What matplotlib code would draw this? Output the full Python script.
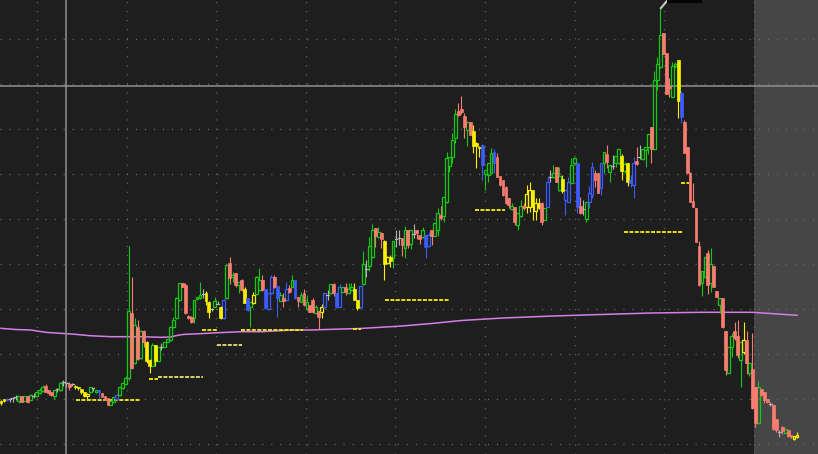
import matplotlib
matplotlib.use("Agg")
import matplotlib.pyplot as plt
from matplotlib.patches import Rectangle
import numpy as np

# ---- candle data: (open, high, low, close, colour-code) ----
seg_a = [
 (53,54,49,51,'y'), (55,55.5,52,53,'y'), (55,56,53,54,'b'), (55,56.5,52,55,'w'),
 (56,57.5,52.5,56,'w'), (57,59,54,57,'w'), (53.5,58.5,50.7,58,'g'), (58,58.5,52,52.5,'r'),
 (53.5,58.5,53,58,'g'), (58,58.5,50.7,52.5,'r'), (54.5,60,54,59,'g'), (58,60.7,55.7,58,'w'),
 (58,62.5,57.5,62,'g'), (61,66,60,64,'g'), (63,69,62,67,'g'), (68,70,62,62.5,'r'),
 (64,64,59,61,'r'), (62,62.5,58,59,'r'), (58,64,54.7,64,'g'), (65,66,62,65,'w'),
 (64,72,63,71.3,'g'), (72,74,68,72,'w'), (70.7,71.3,67.3,70.7,'w'), (70,72.3,64,67,'r'),
 (70,71.3,68,70,'w'), (68,69,64.7,67.5,'y'), (67,67.3,64,66,'y'), (65,65.5,60,62,'y'),
 (62.3,62.5,57,58,'y'), (58,60.7,54.7,60,'y'), (61.7,67,61,66.7,'g'), (66,66.3,63.3,66,'w'),
 (61.7,64.5,61,64,'g'), (64,64.5,54.7,61.7,'b'), (60.7,61,57,57.3,'r'), (58,58,54,54,'r'),
 (55.7,56,49,49,'r'), (49,54,49,53.3,'g'), (52.3,57,52,56.7,'g'), (55,60,54,59,'b'),
 (59,67.5,58.5,67,'g'), (66,72,65,71.3,'g'), (70,78,69,76,'g'),
]
seg_b = [
 (76,208,74,143,'g'), (141.3,177.3,85.5,86.3,'r'), (90.7,135.7,90,129,'g'), (126.7,134,94,95,'r'),
 (95.7,124,95,123.3,'g'), (123.3,124,107,112.3,'r'), (112.3,113,90.7,93.3,'y'), (94,95,81.3,88,'y'),
 (88,110.7,88,108.7,'g'), (108.7,109,88,93.3,'y'), (93.3,107,93,106.7,'g'), (107,111,104,107,'w'),
 (107.3,112.5,107,112.3,'g'), (112.3,115,112,114.7,'g'), (114,128,113.5,126.7,'g'), (126.7,136.7,126,134,'g'),
 (135.7,157.3,135,155.7,'g'), (154,171,153,170.7,'g'), (170.7,171.3,167,167.3,'r'), (169,171.3,140,140.7,'r'),
 (138,139,135,135.7,'r'), (137.3,138,131.5,132.3,'r'), (135.7,154.5,131.3,154,'g'), (154.7,157,154,156.7,'g'),
 (155.7,172.3,155,159,'g'), (160,164.7,155.7,160,'w'), (161.3,163.3,149,153.3,'y'), (152.3,153,135.7,142.3,'y'),
 (145,146,143,145,'w'), (147.3,156.7,147,153.3,'g'), (150,153,150,150,'w'), (147.3,148,134.7,135.7,'y'),
 (135.7,155,135,154,'b'), (155.7,189.5,155,189,'g'), (190.7,197.3,170,176,'r'),
]
seg_c = [
 (176.7,182,172,179,'g'), (180.7,181,167.3,169,'r'), (169,172.3,160.7,172.3,'g'), (174,174.7,163,164,'r'),
 (164.7,166.7,151,151.3,'y'), (155.7,156,143,144,'b'), (146.7,152.3,126.7,152.3,'g'), (151.3,162.3,150,159,'y'),
 (160,178,159,176.7,'g'), (164,185.7,163,174,'g'), (174,179,163.5,164,'r'), (164.7,165,145,145.7,'b'),
 (144.7,161,144,160.7,'b'), (161.3,179,160,176.7,'b'), (176.7,179,166,167.3,'r'), (168,168.5,137.3,155.7,'b'),
 (153.3,162.3,153,159,'g'), (155.7,160.7,147.3,153.3,'r'), (154,172.3,153,164.7,'b'), (165.7,169,161,162.3,'r'),
 (167.3,179,167,174,'g'), (174,174.5,155,155.7,'b'), (156.7,157,147.3,153.3,'r'), (152.3,162.3,152,159,'g'),
 (161.3,164.7,148,149,'r'), (144.7,159,144,152.3,'g'), (149,149.5,142,142.3,'r'), (154,155.7,141,142.3,'r'),
 (140.7,149,140,146.7,'g'), (143,143.5,124.7,137.3,'r'), (142.3,150,135.7,146.7,'y'), (146.7,161.3,146,160.7,'b'),
 (159,164,154,159,'w'), (160.7,170.3,160,170,'g'), (170,170.7,158,160.7,'r'), (161.3,162,146,146.7,'b'),
 (147.3,170,147,167.3,'b'), (162.3,167.3,162,167.3,'g'), (167.3,170.7,159,162.3,'r'), (160.7,170.7,160,164.7,'g'),
 (164,170.7,163,167.3,'g'), (164.7,171.3,154,154,'y'), (154,154.5,144,145.7,'y'), (146.7,168,145,168,'b'),
]
seg_d = [
 (170,203,169,190,'g'), (185,194,177.3,185,'w'), (188,217.3,183,208,'g'), (197.3,229.7,196,224,'g'),
 (225.7,226.5,207.3,218,'r'), (217.3,227.3,216,222.3,'g'), (221.3,222,205.7,214.7,'r'), (213,214,174,190,'y'),
 (191.3,198,190,197.3,'y'), (197,199,187.3,193,'y'), (195.7,213.5,185.7,213,'g'), (215,224,207.3,215,'w'),
 (216,224,209,216,'w'), (215.7,216,198.3,209,'r'), (205.7,228,196.3,224,'g'), (224,224.5,205.7,209,'r'),
 (210,224.5,205.3,224,'g'), (220,230,215.7,220,'w'), (224,224.3,214.7,220.7,'r'), (219,219.5,210,214.7,'r'),
 (216.7,226.7,216,224,'g'), (219,220,196.3,207.3,'b'), (208,222.3,207.5,219,'b'), (224,224.5,209,218,'r'),
 (218,230.7,218,230.7,'g'), (224,245.7,218.3,241.3,'g'), (239,248,234,235.7,'r'), (238,257.3,232.3,257.3,'g'),
 (252.3,302.3,251,295.7,'g'), (288,297.3,282.3,297.3,'g'), (297.3,320.7,290.7,314,'g'), (315.7,344.7,310.7,340,'g'),
 (343.3,351.3,338,339,'r'), (344.7,358,340,342.3,'r'), (338,340.7,315.7,326.7,'r'), (324,332.3,308,332.3,'g'),
 (332.3,332.5,319,319,'r'),
]
seg_e = [
 (323.3,328.7,300.7,308,'y'), (311.3,312,285.7,308,'y'), (307.3,308,297.3,305.7,'y'), (309,310,274,289,'b'),
 (280,284,264,284,'g'), (279,290.7,272.3,290.7,'g'), (280.7,305.7,280,300.7,'g'), (302.3,304.7,280.7,290.7,'b'),
 (296.7,300.7,277,277.3,'r'), (278,278.5,268.5,269,'r'), (274,274.5,258.5,259,'r'), (267.3,268,250,250.7,'r'),
 (255.7,255.7,245.7,249,'r'), (244.7,250.7,244,248,'g'), (246.7,247,229,232.3,'r'), (229,241.3,224,241.3,'g'),
 (238,254,237,248,'g'), (248,250.7,244,246,'r'), (246.7,269,240.7,260,'y'), (247.3,272.3,242.3,264,'y'),
 (264,264.5,234,246.7,'y'), (243.3,255.7,234,250.7,'y'), (251.3,255.7,245,245.7,'y'), (251.3,251.7,229,232.3,'r'),
 (234,245.7,234,245.7,'g'), (247.3,278,247,272.3,'b'), (277,284,272.3,277,'w'), (276.7,289,276,281.3,'g'),
 (286.7,287,272,272.3,'r'), (264,287.3,263,278,'g'), (274.7,278.7,260.7,263.3,'y'), (254,264.5,239,264,'b'),
 (252.3,277.3,252,272.3,'b'), (271.3,295.7,270.7,289,'g'), (290.7,296.7,289,295.7,'g'), (290.7,291,240.7,247.3,'b'),
]
seg_f = [
 (248,257.3,240,240.7,'r'), (245,254,239,245,'w'), (234.7,252.3,232.3,252.3,'g'), (252.3,268.3,245.7,260.7,'b'),
 (259,292.3,256.3,286.7,'b'), (280.7,284,267.3,274,'r'), (280.7,281,261,261.3,'r'), (265.7,290.7,259,290.7,'b'),
 (290.7,302.3,281.3,302.3,'g'), (300,309,285.7,292.3,'r'), (282.3,289,272.3,289,'g'), (288,299,285,288,'w'),
 (290.7,298,287.3,298,'g'), (290.7,304.7,290,304.7,'g'), (298,300,274,283.3,'y'), (283,292,281,290,'g'),
 (290.7,291,268,272.3,'y'),
 (274,279,267.3,270.7,'b'), (269,297.3,255.7,290.7,'b'), (292.7,306.7,289,290,'r'), (297,309,295,297,'w'),
 (294.7,304.7,294,304.7,'g'), (304,307.3,287.3,307.3,'g'), (307.3,320,300,320,'g'), (326.7,327,291.3,304.7,'r'),
 (304.7,383.3,304,374,'g'), (374,397.3,364,390,'g'), (387.3,447.3,386,419,'g'), (421.3,421.5,400,400,'r'),
 (400.7,401,360,360,'r'), (368,376,357,366,'r'), (357.3,392,357,388,'g'), (388,392,386,390,'g'),
 (394,394.5,335.7,353.3,'y'), (360.7,363.3,331,337.3,'b'), (332.3,334,301,301.3,'r'), (307.3,307.5,281,281.3,'r'),
 (281.3,282,252,252.3,'r'),
]
seg_g = [
 (253.3,271.3,247,247.3,'r'), (245.7,246,212,212.3,'r'), (208,213,168,169,'r'), (171.3,183.3,158,183.3,'g'),
 (176.7,196.7,176,196.7,'g'), (201.3,204,160,169,'r'), (170.7,205.7,162.3,190,'g'), (188,188.5,167,167.3,'r'),
 (163.3,163.5,157,157.3,'r'), (149,155.7,140.7,155.7,'g'), (155.7,156,126.5,126.7,'r'), (123.3,123.5,79,84,'r'),
 (81.3,107.3,81,107.3,'g'), (107.3,120.7,97.3,118,'g'), (123.3,132.3,114,115.7,'r'), (118,134,95.7,99,'r'),
 (94,112.3,67.3,112.3,'g'), (102.3,132.3,100,114,'y'), (114,123.3,80,90.7,'r'), (81.3,90.7,78,90.7,'g'),
 (84.7,121.3,45,45.7,'r'), (66.7,67,27,30.7,'r'), (30.7,73.3,30,66.7,'g'), (64.7,65,58.5,59,'r'),
 (62.3,62.5,51,54,'r'), (54.7,55,51,52.3,'r'), (50.5,52,48,50.5,'w'), (49,49.5,24,24.7,'r'),
 (34.7,35,22,24,'r'), (22,24,17,22,'w'),
 (27.3,28,20,23.3,'r'), (21.3,25,21,24.7,'g'), (24,24.5,17,18,'r'), (19,19.5,15.7,16.7,'r'),
 (14.7,18,14.5,18,'y'), (17,22,16.5,19,'y'),
]

# moving-average line (bar index, value)
ma_idx = [0, 5, 10, 15, 20, 25, 30, 37, 42, 47, 54, 57, 60, 62, 67, 73, 81, 88, 98, 104, 115, 121,
          135, 145, 155, 169, 186, 202, 219, 236, 253, 258, 263, 268]
ma_val = [125.7, 124.5, 124, 121.7, 120.7, 119.7, 118.3, 117.3, 117.3, 117.3, 116.7, 117, 119, 119.7,
          120.3, 121.3, 122.3, 122.3, 124, 124, 125, 125.5, 128, 130.5, 133.5, 136, 138, 139.5, 141,
          141.7, 141.7, 140.7, 139.7, 138.7]

# dashed level markers (start bar, end bar, price, colour)
lvl_start = [25.3, 49.7, 52.7, 67.6, 72.7, 80.8, 118.6, 129.4, 159.5, 209.9, 229.1]
lvl_end   = [47.0, 52.7, 67.9, 73.0, 81.1, 101.7, 121.3, 150.7, 169.7, 229.5, 231.5]
lvl_price = [53.7, 75, 77, 124, 108.7, 124.3, 125.5, 154, 244, 221.7, 270.7]
lvl_col   = ['y', 'y', 'l', 'y', 'l', 'y', 'y', 'y', 'y', 'y', 'y']

session_break = 253.5      # start of the shaded (extended-hours) zone
cross_x, cross_y = 22.0, 368.0

candles = seg_a + seg_b + seg_c + seg_d + seg_e + seg_f + seg_g
o = np.array([t[0] for t in candles])
h = np.array([t[1] for t in candles])
l = np.array([t[2] for t in candles])
c = np.array([t[3] for t in candles])
kind = [t[4] for t in candles]
n = len(candles)

COL = {'g': '#14c814', 'r': '#f87c70', 'y': '#f8f000', 'b': '#3c5cff', 'w': '#b4b4b4',
       'l': '#e8e070'}

W, H = 818, 454
fig = plt.figure(figsize=(W / 100, H / 100), dpi=100)
fig.patch.set_facecolor('#1e1e1e')
ax = fig.add_axes([0, 0, 1, 1])
ax.set_facecolor('#1e1e1e')

step = 796 / (n - 1)
ax.set_xlim(-1 / step, (W - 1) / step)
ax.set_ylim(0, H)

# shaded session zone
ax.axvspan(session_break, (W - 1) / step + 5, color='#464646', zorder=0, lw=0)

# dotted grid
gx = np.arange((37 - 1) / step, n + 10, 89.6 / step)
gy = np.arange(10, H, 45)
for x in gx:
    ax.axvline(x, color='#6e6e6e', lw=1.0, ls=(0, (0.7, 5.8)), zorder=1)
for y in gy:
    ax.axhline(y, color='#6e6e6e', lw=1.0, ls=(0, (0.7, 5.8)), zorder=1)

# moving average
ax.plot(ma_idx, ma_val, color='#d67ee8', lw=1.1, zorder=2)

# level markers
for s, e, p, k in zip(lvl_start, lvl_end, lvl_price, lvl_col):
    ax.plot([s, e], [p, p], color=COL[k], lw=1.3, ls=(0, (2.2, 0.8)), zorder=3)

# crosshair
ax.axvline(cross_x, color='#909090', lw=1.1, zorder=2)
ax.axhline(cross_y, color='#909090', lw=1.1, zorder=2)

# candles
bw = 0.95
for i in range(n):
    col = COL[kind[i]]
    top, bot = max(o[i], c[i]), min(o[i], c[i])
    hi, lo = max(h[i], top), min(l[i], bot)
    if c[i] > o[i]:
        ax.add_patch(Rectangle((i - bw / 2, bot), bw, top - bot, facecolor='none',
                               edgecolor=col, lw=0.9, zorder=4))
        ax.plot([i, i], [top, hi], color=col, lw=0.8, zorder=4, solid_capstyle='butt')
        ax.plot([i, i], [lo, bot], color=col, lw=0.8, zorder=4, solid_capstyle='butt')
    elif c[i] < o[i]:
        ax.plot([i, i], [lo, hi], color=col, lw=0.8, zorder=4, solid_capstyle='butt')
        ax.add_patch(Rectangle((i - bw / 2, bot), bw, top - bot, facecolor=col,
                               edgecolor=col, lw=0.5, zorder=5))
    else:
        ax.plot([i, i], [lo, hi], color=col, lw=0.8, zorder=4, solid_capstyle='butt')
        ax.plot([i - bw / 2, i + bw / 2], [o[i], o[i]], color=col, lw=0.9, zorder=4)

# small price-label pointer at the top
ax.plot([222.2, 224.2], [446, 453], color='#c8c8c8', lw=1.5, zorder=6)
ax.add_patch(Rectangle((224.2, 451.5), 11.8, 3, facecolor='#050505', edgecolor='none', zorder=6))

ax.set_xticks([])
ax.set_yticks([])
for sp in ax.spines.values():
    sp.set_visible(False)

fig.savefig('out.png', dpi=100, facecolor=fig.get_facecolor())
